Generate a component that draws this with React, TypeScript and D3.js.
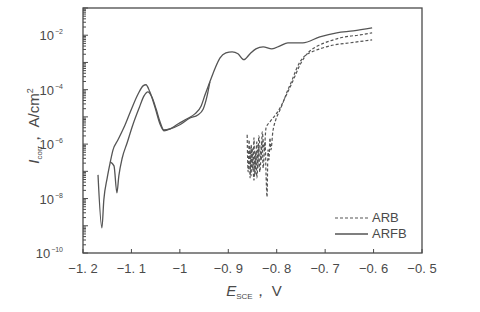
import React from "react";
import * as d3 from "d3";

// potential (V vs SCE) and log10(current density, A/cm^2)
const arfbMainV = [-1.169, -1.161, -1.157, -1.150, -1.144, -1.138, -1.128, -1.113, -1.099, -1.086, -1.076, -1.070, -1.062, -1.051, -1.041, -1.033, -1.020, -1.004, -0.985, -0.969, -0.956, -0.948, -0.938, -0.927, -0.917, -0.905, -0.892, -0.880, -0.868, -0.855, -0.843, -0.828, -0.810, -0.793, -0.777, -0.746, -0.711, -0.676, -0.642, -0.603];
const arfbMainLog = [-7.13, -9.08, -8.05, -7.24, -6.69, -6.21, -5.85, -5.29, -4.67, -4.15, -3.86, -3.82, -4.08, -4.67, -5.26, -5.51, -5.44, -5.26, -5.07, -4.89, -4.60, -4.19, -3.71, -3.20, -2.83, -2.65, -2.61, -2.68, -2.90, -2.68, -2.50, -2.43, -2.50, -2.39, -2.28, -2.28, -2.06, -1.91, -1.84, -1.73];

const arfbBranchV = [-1.144, -1.136, -1.130, -1.126, -1.119, -1.109, -1.097, -1.084, -1.074, -1.066, -1.058, -1.049, -1.041, -1.033, -1.020, -1.000, -0.979, -0.963, -0.952, -0.944, -0.938];
const arfbBranchLog = [-6.65, -6.80, -7.79, -7.17, -6.51, -5.96, -5.29, -4.67, -4.23, -4.08, -4.26, -4.71, -5.18, -5.48, -5.44, -5.29, -5.04, -4.93, -4.72, -4.25, -3.71];

const arbAV = [-0.861, -0.859, -0.857, -0.855, -0.853, -0.849, -0.847, -0.845, -0.841, -0.839, -0.837, -0.832, -0.830, -0.826, -0.822, -0.814, -0.804, -0.793, -0.783, -0.773, -0.762, -0.752, -0.742, -0.731, -0.715, -0.690, -0.659, -0.628, -0.603];
const arbALog = [-5.66, -7.02, -5.85, -7.24, -6.03, -6.95, -5.77, -7.13, -5.92, -6.88, -5.70, -6.58, -5.55, -6.21, -5.40, -5.18, -4.96, -4.67, -4.30, -3.93, -3.49, -3.09, -2.79, -2.57, -2.39, -2.21, -2.06, -1.99, -1.91];

const arbBV = [-0.855, -0.853, -0.851, -0.847, -0.843, -0.841, -0.837, -0.835, -0.830, -0.828, -0.824, -0.822, -0.820, -0.818, -0.816, -0.814, -0.812, -0.808, -0.802, -0.793, -0.785, -0.777, -0.768, -0.760, -0.752, -0.742, -0.727, -0.711, -0.680, -0.649, -0.603];
const arbBLog = [-6.21, -7.17, -6.14, -7.32, -6.29, -7.24, -6.07, -7.02, -5.85, -6.88, -5.92, -7.13, -7.94, -6.21, -6.58, -5.77, -6.21, -5.55, -5.11, -4.74, -4.38, -4.01, -3.64, -3.27, -2.98, -2.76, -2.61, -2.50, -2.35, -2.28, -2.17];

const xTicks = [-1.2, -1.1, -1.0, -0.9, -0.8, -0.7, -0.6, -0.5];
const xTickLabels = ["\u22121. 2", "\u22121. 1", "\u22121", "\u22120. 9", "\u22120. 8", "\u22120. 7", "\u22120. 6", "\u22120. 5"];
const yMajorExp = [-10, -8, -6, -4, -2];
const legendLabels = ["ARB", "ARFB"];

const W = 480, H = 312;
const L = 83, R = 422, T = 8, B = 253;
const ink = "#4a4a4a";
const lineCol = "#555";
const font = "Arial, 'Liberation Sans', sans-serif";

export default function App() {
  const x = d3.scaleLinear().domain([-1.2, -0.5]).range([L, R]);
  const y = d3.scaleLog().domain([1e-10, 1e-1]).range([B, T]);
  const toPts = (vs: number[], ls: number[]) => vs.map((v, i) => [v, Math.pow(10, ls[i])] as [number, number]);
  const line = d3.line<[number, number]>().x(d => x(d[0])).y(d => y(d[1])).curve(d3.curveMonotoneX);

  const solid = [toPts(arfbMainV, arfbMainLog), toPts(arfbBranchV, arfbBranchLog)];
  const dashed = [toPts(arbAV, arbALog), toPts(arbBV, arbBLog)];

  const minorTicks = y.ticks(90).filter(t => t >= 1e-10 && t <= 1e-1);

  return (
    <svg width={W} height={H} style={{ position: "absolute", left: 0, top: 0, background: "#fff" }} fontFamily={font}>
      <rect x={0} y={0} width={W} height={H} fill="#fff" />
      {minorTicks.map((t, i) => {
        const isMajor = Math.abs(Math.log10(t) - Math.round(Math.log10(t))) < 1e-6;
        return <line key={"yt" + i} x1={L} x2={L + (isMajor ? 5 : 3)} y1={y(t)} y2={y(t)} stroke={ink} strokeWidth={1} />;
      })}
      {xTicks.map((t, i) => (
        <line key={"xt" + i} x1={x(t)} x2={x(t)} y1={B} y2={B - 4} stroke={ink} strokeWidth={1} />
      ))}
      <rect x={L} y={T} width={R - L} height={B - T} fill="none" stroke={ink} strokeWidth={1.3} />

      {solid.map((d, i) => (
        <path key={"s" + i} d={line(d) || ""} fill="none" stroke={lineCol} strokeWidth={1.3} strokeLinejoin="round" />
      ))}
      {dashed.map((d, i) => (
        <path key={"d" + i} d={line(d) || ""} fill="none" stroke={lineCol} strokeWidth={1.2} strokeDasharray="3,2" strokeLinejoin="round" />
      ))}

      {xTicks.map((t, i) => (
        <text key={"xl" + i} x={x(t)} y={273} textAnchor="middle" fontSize={13} fill={ink}>{xTickLabels[i]}</text>
      ))}
      {yMajorExp.map((e, i) => (
        <text key={"yl" + i} x={63} y={y(Math.pow(10, e)) + 5} textAnchor="end" fontSize={13} fill={ink}>
          10
          <tspan dx={1} dy={-6} fontSize={7}>{"\u2212" + Math.abs(e)}</tspan>
        </text>
      ))}

      <text transform="translate(39,126) rotate(-90)" textAnchor="middle" fontSize={15} fill={ink}>
        <tspan fontStyle="italic">I</tspan>
        <tspan fontSize={8} dy={3}>corr</tspan>
        <tspan dy={-3}>{"\uff0c A/cm"}</tspan>
        <tspan fontSize={9} dy={-6}>2</tspan>
      </text>
      <text x={254} y={296} textAnchor="middle" fontSize={15} fill={ink}>
        <tspan fontStyle="italic">E</tspan>
        <tspan fontSize={8} dy={3}>SCE</tspan>
        <tspan dy={-3}>{"\uff0c V"}</tspan>
      </text>

      <line x1={335} x2={368} y1={218} y2={218} stroke={lineCol} strokeWidth={1.2} strokeDasharray="3,2" />
      <line x1={335} x2={368} y1={234} y2={234} stroke={lineCol} strokeWidth={1.3} />
      <text x={372} y={222} fontSize={13} fill={ink}>{legendLabels[0]}</text>
      <text x={372} y={238} fontSize={13} fill={ink}>{legendLabels[1]}</text>
    </svg>
  );
}
